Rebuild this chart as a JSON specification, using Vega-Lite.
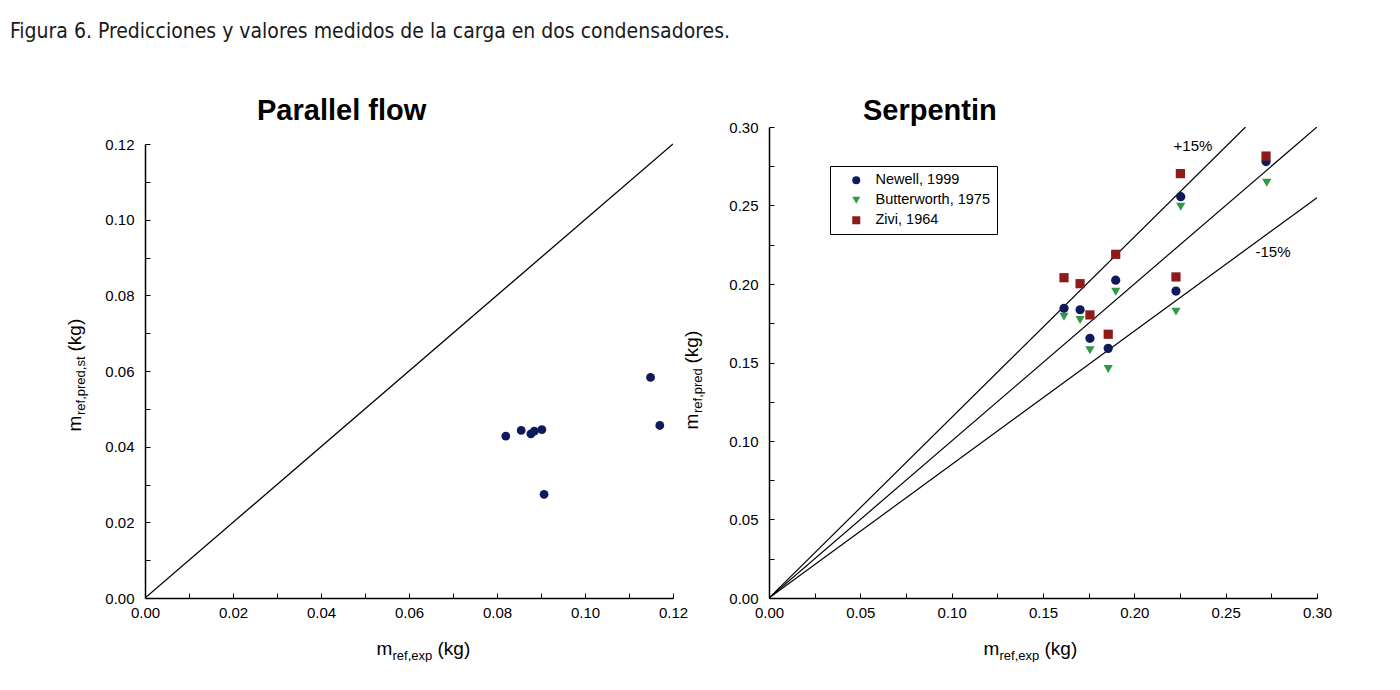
{
  "$schema": "https://vega.github.io/schema/vega-lite/v6.json",
  "background": "white",
  "padding": {"left": 10, "top": 21, "right": 0, "bottom": 0},
  "title": {
    "text": "Figura 6. Predicciones y valores medidos de la carga en dos condensadores.",
    "anchor": "start", "frame": "group", "dx": -135, "offset": 38, "baseline": "alphabetic",
    "font": "Liberation Sans Narrow, DejaVu Sans Condensed, sans-serif",
    "fontSize": 21, "fontWeight": "normal", "color": "#1a1a1a"
  },
  "spacing": 96,
  "bounds": "flush",
  "config": {
    "font": "Liberation Sans",
    "view": {"stroke": null},
    "axis": {
      "grid": false, "domainColor": "black", "domainWidth": 1.5,
      "tickColor": "black", "tickWidth": 1, "tickSize": -5,
      "labelFontSize": 15, "labelColor": "black", "labelFlush": false, "labelOverlap": false,
      "titleColor": "black", "titleFontWeight": "normal", "titleFontSize": 19,
      "titleAlign": "left", "titleBaseline": "alphabetic"
    }
  },
  "datasets": {
    "leftLine": [{"x": 0, "y": 0}, {"x": 0.12, "y": 0.12}],
    "leftPts": [
      {"x": 0.0820, "y": 0.0428}, {"x": 0.0855, "y": 0.0443}, {"x": 0.0877, "y": 0.0434},
      {"x": 0.0885, "y": 0.0441}, {"x": 0.0902, "y": 0.0445}, {"x": 0.0907, "y": 0.0274},
      {"x": 0.1149, "y": 0.0583}, {"x": 0.1170, "y": 0.0456}
    ],
    "rightLines": [
      {"line": "+15%", "x": 0, "y": 0}, {"line": "+15%", "x": 0.2609, "y": 0.30},
      {"line": "0%", "x": 0, "y": 0}, {"line": "0%", "x": 0.30, "y": 0.30},
      {"line": "-15%", "x": 0, "y": 0}, {"line": "-15%", "x": 0.30, "y": 0.255}
    ],
    "rightLabels": [
      {"label": "+15%", "x": 0.2321, "y": 0.2879},
      {"label": "-15%", "x": 0.2759, "y": 0.2204}
    ],
    "rightPts": [
      {"series": "Newell, 1999", "x": 0.1615, "y": 0.1845},
      {"series": "Newell, 1999", "x": 0.1703, "y": 0.1836},
      {"series": "Newell, 1999", "x": 0.1757, "y": 0.1654},
      {"series": "Newell, 1999", "x": 0.1857, "y": 0.1590},
      {"series": "Newell, 1999", "x": 0.1898, "y": 0.2024},
      {"series": "Newell, 1999", "x": 0.2228, "y": 0.1955},
      {"series": "Newell, 1999", "x": 0.2254, "y": 0.2556},
      {"series": "Newell, 1999", "x": 0.2721, "y": 0.2780},
      {"series": "Butterworth, 1975", "x": 0.1615, "y": 0.1792},
      {"series": "Butterworth, 1975", "x": 0.1703, "y": 0.1771},
      {"series": "Butterworth, 1975", "x": 0.1757, "y": 0.1578},
      {"series": "Butterworth, 1975", "x": 0.1857, "y": 0.1459},
      {"series": "Butterworth, 1975", "x": 0.1898, "y": 0.1951},
      {"series": "Butterworth, 1975", "x": 0.2228, "y": 0.1824},
      {"series": "Butterworth, 1975", "x": 0.2254, "y": 0.2492},
      {"series": "Butterworth, 1975", "x": 0.2725, "y": 0.2645},
      {"series": "Zivi, 1964", "x": 0.1615, "y": 0.2040},
      {"series": "Zivi, 1964", "x": 0.1703, "y": 0.2002},
      {"series": "Zivi, 1964", "x": 0.1757, "y": 0.1803},
      {"series": "Zivi, 1964", "x": 0.1857, "y": 0.1680},
      {"series": "Zivi, 1964", "x": 0.1898, "y": 0.2189},
      {"series": "Zivi, 1964", "x": 0.2228, "y": 0.2045},
      {"series": "Zivi, 1964", "x": 0.2252, "y": 0.2703},
      {"series": "Zivi, 1964", "x": 0.2721, "y": 0.2815}
    ]
  },
  "hconcat": [
    {
      "width": 528, "height": 471,
      "title": {"text": "Parallel flow", "anchor": "start", "frame": "group", "dx": 112, "offset": -22,
                "baseline": "alphabetic", "fontSize": 29, "fontWeight": "bold", "color": "black"},
      "resolve": {"axis": {"x": "independent", "y": "independent"}},
      "layer": [
        {
          "data": {"name": "leftLine"},
          "mark": {"type": "line", "color": "black", "strokeWidth": 1.3, "clip": true},
          "encoding": {
            "x": {"field": "x", "type": "quantitative", "scale": {"domain": [0, 0.12]},
                  "axis": {"orient": "bottom", "values": [0, 0.01, 0.02, 0.03, 0.04, 0.05, 0.06, 0.07, 0.08, 0.09, 0.1, 0.11, 0.12],
                           "format": ".2f", "labelExpr": "round(datum.value*100)%2==0 ? datum.label : ''",
                           "labelPadding": 12,
                           "title": "m", "titleX": 231, "titleY": 56}},
            "y": {"field": "y", "type": "quantitative", "scale": {"domain": [0, 0.12], "range": [471, 17]},
                  "axis": {"orient": "left", "values": [0, 0.01, 0.02, 0.03, 0.04, 0.05, 0.06, 0.07, 0.08, 0.09, 0.1, 0.11, 0.12],
                           "format": ".2f", "labelExpr": "round(datum.value*100)%2==0 ? datum.label : ''",
                           "labelPadding": 16,
                           "title": "m", "titleAngle": 270, "titleX": -65, "titleY": 304}}
          }
        },
        {
          "data": {"name": "leftPts"},
          "mark": {"type": "point", "filled": true, "shape": "circle", "color": "#0e1a5b", "size": 78, "opacity": 1},
          "encoding": {
            "x": {"field": "x", "type": "quantitative",
                  "axis": {"orient": "bottom", "domain": false, "ticks": false, "labels": false,
                           "title": "ref,exp", "titleFontSize": 13, "titleX": 247, "titleY": 61}},
            "y": {"field": "y", "type": "quantitative",
                  "axis": {"orient": "left", "domain": false, "ticks": false, "labels": false,
                           "title": "ref,pred,st", "titleFontSize": 13, "titleAngle": 270, "titleX": -60.5, "titleY": 287.5}}
          }
        },
        {
          "data": {"values": []},
          "mark": {"type": "point"},
          "encoding": {
            "x": {"field": "x", "type": "quantitative",
                  "axis": {"orient": "bottom", "domain": false, "ticks": false, "labels": false,
                           "title": "(kg)", "titleX": 292, "titleY": 56}},
            "y": {"field": "y", "type": "quantitative",
                  "axis": {"orient": "left", "domain": false, "ticks": false, "labels": false,
                           "title": "(kg)", "titleAngle": 270, "titleX": -65, "titleY": 224}}
          }
        }
      ]
    },
    {
      "width": 548, "height": 471,
      "title": {"text": "Serpentin", "anchor": "start", "frame": "group", "dx": 94, "offset": -29,
                "baseline": "alphabetic", "fontSize": 29, "fontWeight": "bold", "color": "black"},
      "resolve": {"axis": {"x": "independent", "y": "independent"}},
      "layer": [
        {
          "data": {"name": "rightLines"},
          "mark": {"type": "line", "color": "black", "strokeWidth": 1.2, "clip": true},
          "encoding": {
            "detail": {"field": "line"},
            "x": {"field": "x", "type": "quantitative", "scale": {"domain": [0, 0.3]},
                  "axis": {"orient": "bottom", "values": [0, 0.025, 0.05, 0.075, 0.1, 0.125, 0.15, 0.175, 0.2, 0.225, 0.25, 0.275, 0.3],
                           "format": ".2f", "labelExpr": "round(datum.value*40)%2==0 ? datum.label : ''",
                           "labelPadding": 12,
                           "title": "m", "titleX": 214, "titleY": 56}},
            "y": {"field": "y", "type": "quantitative", "scale": {"domain": [0, 0.3]},
                  "axis": {"orient": "left", "values": [0, 0.025, 0.05, 0.075, 0.1, 0.125, 0.15, 0.175, 0.2, 0.225, 0.25, 0.275, 0.3],
                           "format": ".2f", "labelExpr": "round(datum.value*40)%2==0 ? datum.label : ''",
                           "labelPadding": 16,
                           "title": "m", "titleAngle": 270, "titleX": -72, "titleY": 302}}
          }
        },
        {
          "data": {"name": "rightPts"},
          "mark": {"type": "point", "filled": true, "size": 85, "opacity": 1},
          "encoding": {
            "x": {"field": "x", "type": "quantitative",
                  "axis": {"orient": "bottom", "domain": false, "ticks": false, "labels": false,
                           "title": "ref,exp", "titleFontSize": 13, "titleX": 230, "titleY": 61}},
            "y": {"field": "y", "type": "quantitative",
                  "axis": {"orient": "left", "domain": false, "ticks": false, "labels": false,
                           "title": "ref,pred", "titleFontSize": 13, "titleAngle": 270, "titleX": -67.5, "titleY": 285.5}},
            "color": {"field": "series", "type": "nominal",
                      "scale": {"domain": ["Newell, 1999", "Butterworth, 1975", "Zivi, 1964"], "range": ["#0e1a5b", "#2f9a46", "#8e1a1a"]},
                      "legend": {"title": null, "orient": "none", "legendX": 685, "legendY": 39,
                                 "strokeColor": "black", "fillColor": "white",
                                 "padding": 7, "symbolOffset": 12, "labelOffset": 12, "labelFontSize": 14.5,
                                 "labelColor": "black", "rowPadding": 5, "symbolSize": 64}},
            "shape": {"field": "series", "type": "nominal",
                      "scale": {"domain": ["Newell, 1999", "Butterworth, 1975", "Zivi, 1964"], "range": ["circle", "triangle-down", "square"]},
                      "legend": {"title": null, "orient": "none", "legendX": 685, "legendY": 39,
                                 "strokeColor": "black", "fillColor": "white",
                                 "padding": 7, "symbolOffset": 12, "labelOffset": 12, "labelFontSize": 14.5,
                                 "labelColor": "black", "rowPadding": 5, "symbolSize": 64}}
          }
        },
        {
          "data": {"name": "rightLabels"},
          "mark": {"type": "text", "fontSize": 15, "color": "black", "align": "center", "baseline": "middle"},
          "encoding": {
            "x": {"field": "x", "type": "quantitative",
                  "axis": {"orient": "bottom", "domain": false, "ticks": false, "labels": false,
                           "title": "(kg)", "titleX": 275, "titleY": 56}},
            "y": {"field": "y", "type": "quantitative",
                  "axis": {"orient": "left", "domain": false, "ticks": false, "labels": false,
                           "title": "(kg)", "titleAngle": 270, "titleX": -72, "titleY": 236}},
            "text": {"field": "label"}
          }
        }
      ]
    }
  ]
}
